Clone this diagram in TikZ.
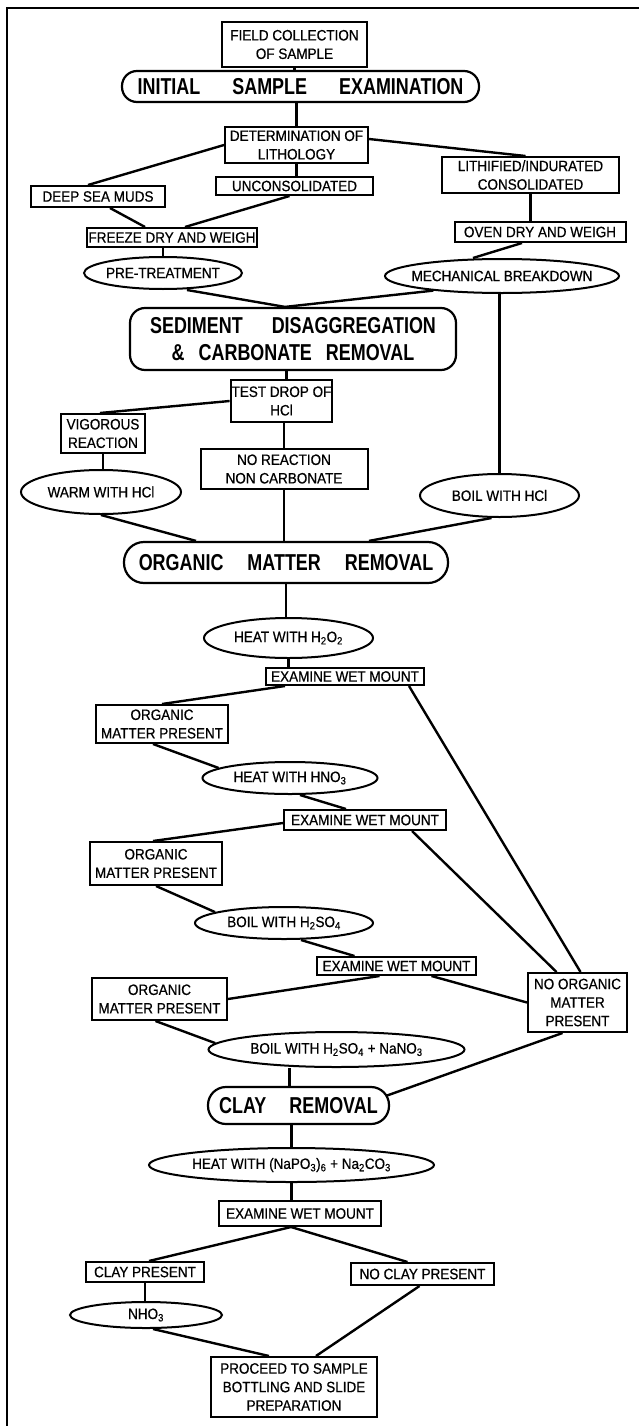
\documentclass[tikz,border=0pt]{standalone}
\usepackage{fontspec}
\setmainfont{Liberation Sans}[FakeStretch=0.9, FakeBold=0.6]
\newfontfamily\headfont{Liberation Sans}[FakeStretch=0.78]
\usetikzlibrary{shapes.geometric}
\newcommand{\wsp}[1][24pt]{\hspace{#1}}
\newcommand{\chsub}[1]{\textsubscript{#1}}

\begin{document}
\begin{tikzpicture}[x=1pt, y=-1pt,
  stepbox/.style={draw, rectangle, line width=2pt, inner sep=1pt, align=center, font=\fontsize{15}{18.5}\selectfont},
  oval/.style={draw, ellipse, line width=2pt, inner sep=0pt, font=\fontsize{15}{18.5}\selectfont},
  headbox/.style={draw, rectangle, line width=2.2pt, rounded corners=#1, inner sep=0pt, align=center, font=\headfont\bfseries\fontsize{23}{27}\selectfont},
  headbox/.default=15pt,
  link/.style={line width=2.4pt}]
 \useasboundingbox (0,0) rectangle (639,1426);
 \draw[line width=2pt] (639,8) -- (7,8) -- (7,1426);

 % sample arrival and lithology
 \node[stepbox, minimum width=145pt, minimum height=45pt] (field) at (294.5,44.5) {FIELD COLLECTION\\OF SAMPLE};
 \node[headbox, minimum width=357pt, minimum height=31pt] (initial) at (300.5,86.5) {INITIAL\wsp[32pt]SAMPLE\wsp[32pt]EXAMINATION};
 \node[stepbox, minimum width=143pt, minimum height=36pt] (litho) at (296.5,145) {DETERMINATION OF\\LITHOLOGY};
 \node[stepbox, minimum width=157pt, minimum height=18pt] (uncons) at (294.5,186) {UNCONSOLIDATED};
 \node[stepbox, minimum width=134pt, minimum height=21pt] (deepsea) at (98,196.5) {DEEP SEA MUDS};
 \node[stepbox, minimum width=177pt, minimum height=36pt] (lithified) at (530.5,175) {LITHIFIED/INDURATED\\CONSOLIDATED};
 \node[stepbox, minimum width=171pt, minimum height=20pt] (oven) at (540,232) {OVEN DRY AND WEIGH};
 \node[stepbox, minimum width=170pt, minimum height=19pt] (freeze) at (172,237.5) {FREEZE DRY AND WEIGH};
 \node[oval, minimum width=158pt, minimum height=32pt] (pretreat) at (163,273) {\makebox[0pt]{PRE-TREATMENT}};
 \node[oval, minimum width=234pt, minimum height=34pt] (mech) at (502,276) {\makebox[0pt]{MECHANICAL BREAKDOWN}};

 % carbonate
 \node[headbox, minimum width=326pt, minimum height=62pt] (sediment) at (293,339) {SEDIMENT\wsp[29pt]DISAGGREGATION\\\&\wsp[14pt]CARBONATE\wsp[14pt]REMOVAL};
 \node[stepbox, minimum width=101pt, minimum height=42pt] (testdrop) at (281.5,401) {TEST DROP OF\\HCl};
 \node[stepbox, minimum width=84pt, minimum height=39pt] (vigorous) at (103,433.5) {VIGOROUS\\REACTION};
 \node[stepbox, minimum width=167pt, minimum height=40pt] (noreact) at (284,469) {NO REACTION\\NON CARBONATE};
 \node[oval, minimum width=160pt, minimum height=44pt] (warm) at (101,492) {\makebox[0pt]{WARM WITH HCl}};
 \node[oval, minimum width=159pt, minimum height=43pt] (boilhcl) at (499.5,495.5) {\makebox[0pt]{BOIL WITH HCl}};

 % organic matter
 \node[headbox=20pt, minimum width=324pt, minimum height=41pt] (organic) at (286,562.5) {ORGANIC\wsp MATTER\wsp REMOVAL};
 \node[oval, minimum width=169pt, minimum height=40pt] (hperox) at (288.5,638) {\makebox[0pt]{HEAT WITH H\chsub{2}O\chsub{2}}};
 \node[stepbox, minimum width=158pt, minimum height=17pt] (wetA) at (345,676.5) {EXAMINE WET MOUNT};
 \node[stepbox, minimum width=132pt, minimum height=38pt] (omA) at (162,724) {ORGANIC\\MATTER PRESENT};
 \node[oval, minimum width=175pt, minimum height=32pt] (hnitric) at (290,778) {\makebox[0pt]{HEAT WITH HNO\chsub{3}}};
 \node[stepbox, minimum width=162pt, minimum height=20pt] (wetB) at (365,820) {EXAMINE WET MOUNT};
 \node[stepbox, minimum width=132pt, minimum height=43pt] (omB) at (156,863.5) {ORGANIC\\MATTER PRESENT};
 \node[oval, minimum width=178pt, minimum height=32pt] (hsulf) at (284,923) {\makebox[0pt]{BOIL WITH H\chsub{2}SO\chsub{4}}};
 \node[stepbox, minimum width=159pt, minimum height=18pt] (wetC) at (396.5,966) {EXAMINE WET MOUNT};
 \node[stepbox, minimum width=135pt, minimum height=42pt] (omC) at (159.5,999) {ORGANIC\\MATTER PRESENT};
 \node[stepbox, minimum width=99pt, minimum height=59pt] (noorganic) at (577.5,1002.5) {NO ORGANIC\\MATTER\\PRESENT};
 \node[oval, minimum width=256pt, minimum height=35pt] (sulfnitr) at (336.5,1049.5) {\makebox[0pt]{BOIL WITH H\chsub{2}SO\chsub{4} + NaNO\chsub{3}}};

 % clay
 \node[headbox=18pt, minimum width=181pt, minimum height=37pt] (clay) at (298.5,1105.5) {CLAY\wsp[23pt]REMOVAL};
 \node[oval, minimum width=285pt, minimum height=34pt] (calgon) at (291.5,1165) {\makebox[0pt]{HEAT WITH (NaPO\chsub{3})\chsub{6} + Na\chsub{2}CO\chsub{3}}};
 \node[stepbox, minimum width=162pt, minimum height=25pt] (wetD) at (300,1213.5) {EXAMINE WET MOUNT};
 \node[stepbox, minimum width=118pt, minimum height=20pt] (claypres) at (145,1272) {CLAY PRESENT};
 \node[stepbox, minimum width=143pt, minimum height=22pt] (noclay) at (422.5,1274) {NO CLAY PRESENT};
 \node[oval, minimum width=152pt, minimum height=26pt] (nitric) at (146,1315) {\makebox[0pt]{NHO\chsub{3}}};
 \node[stepbox, minimum width=166pt, minimum height=60pt] (proceed) at (294,1387) {PROCEED TO SAMPLE\\BOTTLING AND SLIDE\\PREPARATION};

 \coordinate (wetDfoot) at ([xshift=-9pt]wetD.south);

 % connectors
 \draw[link] (field.south) -- (field.south |- initial.north);
 \draw[link] (litho.north |- initial.south) -- (litho.north);
 \draw[link] (litho.west) -- ([xshift=-10pt]deepsea.north);
 \draw[link] ([yshift=6pt]litho.east) -- ([xshift=-5pt]lithified.north);
 \draw[link] (litho.south) -- (litho.south |- uncons.north);
 \draw[link] ([xshift=12pt]deepsea.south) -- ([xshift=-27pt]freeze.north);
 \draw[link] ([xshift=-5pt]uncons.south) -- ([xshift=13pt]freeze.north);
 \draw[link] (lithified.south) -- (lithified.south |- oven.north);
 \draw[link] (pretreat.north |- freeze.south) -- (pretreat.north);
 \draw[link] ([xshift=-18pt]oven.south) -- ([xshift=-29pt]mech.north);
 \draw[link] ([xshift=24pt]pretreat.south) -- ([xshift=-8pt]sediment.north);
 \draw[link] (mech.192) -- ([xshift=-8pt]sediment.north);
 \draw[link] (boilhcl.north |- mech.south) -- (boilhcl.north);
 \draw[link] ([xshift=5pt]testdrop.north |- sediment.south) -- ([xshift=5pt]testdrop.north);
 \draw[link] (testdrop.west) -- ([xshift=-3pt]vigorous.north);
 \draw[link] (noreact.north |- testdrop.south) -- (noreact.north);
 \draw[link] (vigorous.south) -- (vigorous.south |- warm.north);
 \draw[link] (warm.south) -- ([xshift=-90pt]organic.north);
 \draw[link] (noreact.south) -- (noreact.south |- organic.north);
 \draw[link] ([xshift=-8pt]boilhcl.south) -- ([xshift=83pt]organic.north);
 \draw[link] (organic.south) -- (organic.south |- hperox.north);
 \draw[link] (hperox.south) -- (hperox.south |- wetA.north);
 \draw[link] ([xshift=-60pt]wetA.south) -- (omA.north);
 \draw[link] ([xshift=64pt]wetA.south) -- ([xshift=3pt]noorganic.north);
 \draw[link] ([xshift=-9pt]omA.south) -- (hnitric.172);
 \draw[link] ([xshift=10pt]hnitric.south) -- ([xshift=-19pt]wetB.north);
 \draw[link] ([yshift=-3pt]wetB.west) -- ([xshift=-3pt]omB.north);
 \draw[link] ([xshift=47pt]wetB.south) -- ([xshift=-21pt]noorganic.north);
 \draw[link] (omB.south) -- (hsulf.171);
 \draw[link] ([xshift=17pt]hsulf.south) -- ([xshift=-42pt]wetC.north);
 \draw[link] ([xshift=-17pt]wetC.south) -- (omC.east);
 \draw[link] ([xshift=35pt]wetC.south) -- (noorganic.west);
 \draw[link] ([xshift=-4pt]omC.south) -- (sulfnitr.177);
 \draw[link] ([xshift=-9pt]clay.north |- sulfnitr.south) -- ([xshift=-9pt]clay.north);
 \draw[link] ([xshift=-15pt]noorganic.south) -- ([xshift=-3pt,yshift=10pt]clay.east);
 \draw[link] (calgon.north |- clay.south) -- (calgon.north);
 \draw[link] (calgon.south) -- (calgon.south |- wetD.north);
 \draw[link] (wetDfoot) -- ([xshift=4pt]claypres.north);
 \draw[link] (wetDfoot) -- ([xshift=-15pt]noclay.north);
 \draw[link] (claypres.south) -- (claypres.south |- nitric.north);
 \draw[link] ([xshift=7pt]nitric.south) -- ([xshift=-25pt]proceed.north);
 \draw[link] ([xshift=-3pt]noclay.south) -- ([xshift=22pt]proceed.north);
\end{tikzpicture}
\end{document}
